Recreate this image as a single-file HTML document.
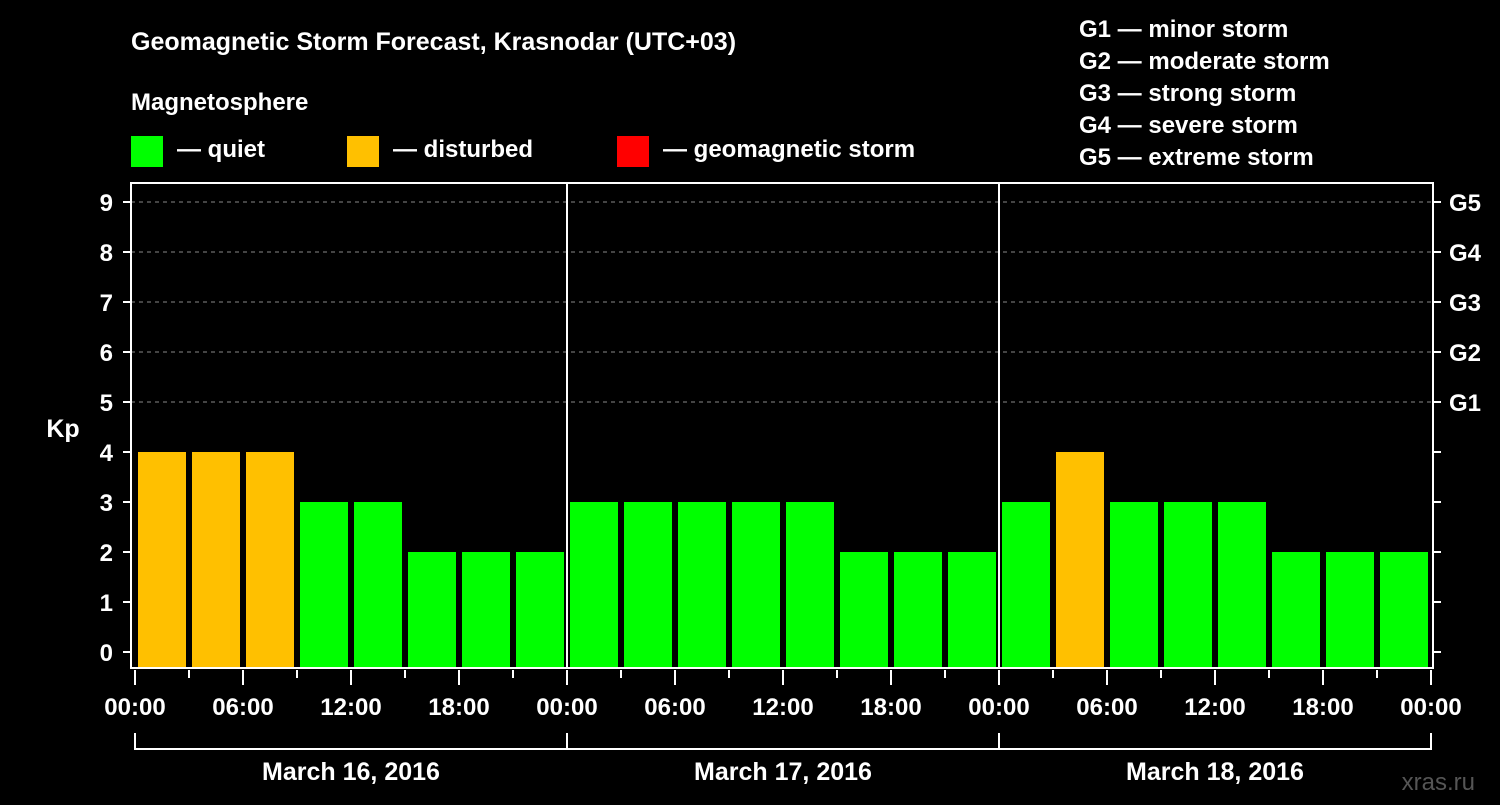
<!DOCTYPE html>
<html><head><meta charset="utf-8"><style>
body{margin:0;background:#000;}
svg text{font-family:"Liberation Sans",sans-serif;font-weight:bold;fill:#fff;}
</style></head><body>
<svg width="1500" height="800" xmlns="http://www.w3.org/2000/svg" id="chart">
<rect width="1500" height="800" fill="#000"/>
<text x="131" y="50" font-size="25">Geomagnetic Storm Forecast, Krasnodar (UTC+03)</text>
<text x="131" y="110" font-size="24">Magnetosphere</text>
<g><rect x="131" y="136" width="32" height="31" fill="#00ff00"/><text x="177" y="157" font-size="24">— quiet</text></g>
<g><rect x="347" y="136" width="32" height="31" fill="#ffc000"/><text x="393" y="157" font-size="24">— disturbed</text></g>
<g><rect x="617" y="136" width="32" height="31" fill="#ff0000"/><text x="663" y="157" font-size="24">— geomagnetic storm</text></g>
<g font-size="24">
<text x="1079" y="37">G1 — minor storm</text>
<text x="1079" y="69">G2 — moderate storm</text>
<text x="1079" y="101">G3 — strong storm</text>
<text x="1079" y="133">G4 — severe storm</text>
<text x="1079" y="165">G5 — extreme storm</text>
</g>
<g id="grid"></g><g id="bars"></g><g id="axes"></g>
<text x="63" y="437" font-size="25" text-anchor="middle">Kp</text>
<text x="1475" y="790" font-size="24" text-anchor="end" fill="#666" style="fill:#555;font-weight:normal">xras.ru</text>
</svg>
<script>
const days = ["March 16, 2016","March 17, 2016","March 18, 2016"];
const kpValues = [4,4,4,3,3,2,2,2, 3,3,3,3,3,2,2,2, 3,4,3,3,3,2,2,2];
const timeLabels = ["00:00","06:00","12:00","18:00"];
const gLabels = ["G1","G2","G3","G4","G5"];
const NS="http://www.w3.org/2000/svg";
const L=135, DW=432, TOP=183, BOT=668;
const y = v => 652 - v*50;
const x = h => L + h/24*DW;
function mk(tag, attrs, parent){const e=document.createElementNS(NS,tag);for(const k in attrs)e.setAttribute(k,attrs[k]);parent.appendChild(e);return e;}
const grid=document.getElementById('grid'), bars=document.getElementById('bars'), axes=document.getElementById('axes');
for(let v=5; v<=9; v++){
  const ln=mk('line',{x1:131,x2:1433,y1:y(v),y2:y(v),stroke:'#888','stroke-dasharray':'4,4','stroke-width':1},grid);
  
  
}
kpValues.forEach((v,i)=>{
  const c = v>=5 ? '#ff0000' : (v>=4 ? '#ffc000' : '#00ff00');
  const r=mk('rect',{x:x(i*3)+3,y:y(v),width:48,height:BOT-y(v),fill:c},bars);
  
  
});
const frame=mk('rect',{x:131,y:TOP,width:1302,height:BOT-TOP,fill:'none',stroke:'#fff','stroke-width':2},axes);


for(let d=1; d<days.length; d++){
  const s=mk('line',{x1:x(d*24),x2:x(d*24),y1:TOP,y2:BOT,stroke:'#fff','stroke-width':2},axes);
  
  
}
for(let v=0; v<=9; v++){
  mk('line',{x1:123,x2:131,y1:y(v),y2:y(v),stroke:'#fff','stroke-width':2},axes);
  mk('line',{x1:1433,x2:1441,y1:y(v),y2:y(v),stroke:'#fff','stroke-width':2},axes);
  const t=mk('text',{x:113,y:y(v)+9,'font-size':24,'text-anchor':'end'},axes);
  t.textContent=v;
  
  
}
gLabels.forEach((g,i)=>{
  const t=mk('text',{x:1449,y:y(i+5)+9,'font-size':24},axes);
  t.textContent=g;
  
  
});
for(let h=0; h<=days.length*24; h+=3){
  const major = h%6===0;
  mk('line',{x1:x(h),x2:x(h),y1:670,y2:major?685:678,stroke:'#fff','stroke-width':2},axes);
}
for(let d=0; d<days.length; d++){
  timeLabels.forEach((lab,j)=>{
    const t=mk('text',{x:x(d*24+j*6),y:715,'font-size':24,'text-anchor':'middle'},axes);
    t.textContent=lab;
    
    
  });
  const dl=mk('text',{x:x(d*24+12),y:780,'font-size':25,'text-anchor':'middle'},axes);
  dl.textContent=days[d];
  
  
}
const lt=mk('text',{x:x(days.length*24),y:715,'font-size':24,'text-anchor':'middle'},axes);
lt.textContent=timeLabels[0];


mk('line',{x1:x(0),x2:x(days.length*24),y1:749,y2:749,stroke:'#fff','stroke-width':2},axes);
for(let d=0; d<=days.length; d++){
  mk('line',{x1:x(d*24),x2:x(d*24),y1:733,y2:750,stroke:'#fff','stroke-width':2},axes);
}
</script>
</body></html>
